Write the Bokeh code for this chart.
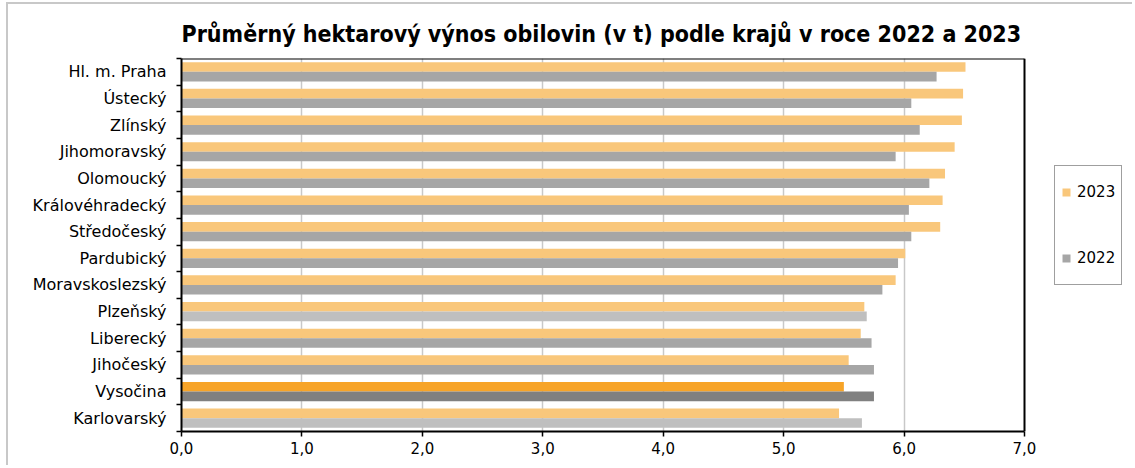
from bokeh.plotting import figure
from bokeh.models import (ColumnDataSource, Range1d, FixedTicker, Legend, LegendItem, Title)
from bokeh.embed import file_html
from bokeh.resources import INLINE

categories = ["Hl. m. Praha", "Ústecký", "Zlínský", "Jihomoravský", "Olomoucký",
              "Královéhradecký", "Středočeský", "Pardubický", "Moravskoslezský",
              "Plzeňský", "Liberecký", "Jihočeský", "Vysočina", "Karlovarský"]
v2023 = [6.51, 6.49, 6.48, 6.42, 6.34, 6.32, 6.30, 6.01, 5.93, 5.67, 5.64, 5.54, 5.50, 5.46]
v2022 = [6.27, 6.06, 6.13, 5.93, 6.21, 6.04, 6.06, 5.95, 5.82, 5.69, 5.73, 5.75, 5.75, 5.65]
series = ["2023", "2022"]
x_ticks = [0, 1, 2, 3, 4, 5, 6, 7]
x_tick_labels = ["0,0", "1,0", "2,0", "3,0", "4,0", "5,0", "6,0", "7,0"]

FONT = "DejaVu Sans"
TFONT = "DejaVu Sans Condensed"
n = len(categories)
centers = [n - i - 0.5 for i in range(n)]
BAR_H = 0.36

# layout (pixels)
W, H = 1126, 463
LEFT, TOP, BOTTOM = 173, 54, 36
PLOT_W = 843                      # width of the 0..7 plotting area
FRAME_W = W - LEFT
x_max = x_ticks[-1]
x_end = x_max * FRAME_W / PLOT_W  # frame extends right to hold the legend

c23 = []
c22 = []
for c in categories:
    if c == "Vysočina":
        c23.append("#F7A428"); c22.append("#808080")
    elif c in ("Plzeňský", "Karlovarský"):
        c23.append("#F9C77B"); c22.append("#BFBFBF")
    else:
        c23.append("#F9C77B"); c22.append("#A6A6A6")

src23 = ColumnDataSource(dict(y=[c + BAR_H / 2 for c in centers], v=v2023, color=c23, cat=categories))
src22 = ColumnDataSource(dict(y=[c - BAR_H / 2 for c in centers], v=v2022, color=c22, cat=categories))

p = figure(width=W, height=H, output_backend="svg", toolbar_location=None,
           x_range=Range1d(0, x_end), y_range=Range1d(0, n),
           min_border_left=LEFT, min_border_right=0, min_border_top=TOP, min_border_bottom=BOTTOM)
p.styles = {"margin-top": "2px", "margin-left": "6px",
            "border-top": "2px solid #C8C8C8", "border-left": "2px solid #C8C8C8"}

p.title = Title(text="Průměrný hektarový výnos obilovin (v t) podle krajů v roce 2022 a 2023",
                align="left", offset=0, text_font=TFONT, text_font_size="23px",
                text_font_style="bold", text_color="black", standoff=24)

p.outline_line_color = None
p.background_fill_color = "white"
p.border_fill_color = "white"

# grid
p.ygrid.grid_line_color = None
p.xgrid.grid_line_color = "#C8C8C8"
p.xgrid.grid_line_width = 1.5
p.xgrid.ticker = FixedTicker(ticks=x_ticks[1:-1])
p.xgrid.level = "underlay"

r23 = p.hbar(y="y", right="v", left=0, height=BAR_H, source=src23, fill_color="color", line_color=None)
r22 = p.hbar(y="y", right="v", left=0, height=BAR_H, source=src22, fill_color="color", line_color=None)

# plot-area border (top and right)
p.segment(x0=[0, x_max], y0=[n, 0], x1=[x_max, x_max], y1=[n, n], line_color="black", line_width=2)

# x axis
xa = p.xaxis[0]
xa.bounds = (0, x_max)
xa.ticker = FixedTicker(ticks=x_ticks)
xa.major_label_overrides = {t: lab for t, lab in zip(x_ticks, x_tick_labels)}
xa.axis_line_color = "black"
xa.axis_line_width = 2
xa.major_tick_line_color = "black"
xa.major_tick_line_width = 1.5
xa.major_tick_in = 0
xa.major_tick_out = 5
xa.minor_tick_line_color = None
xa.major_label_standoff = 5
xa.major_label_text_font = FONT
xa.major_label_text_font_size = "15px"
xa.major_label_text_color = "black"

# y axis
ya = p.yaxis[0]
ya.ticker = FixedTicker(ticks=centers, minor_ticks=list(range(0, n + 1)))
ya.major_label_overrides = {c: lab for c, lab in zip(centers, categories)}
ya.axis_line_color = "black"
ya.axis_line_width = 2
ya.major_tick_line_color = None
ya.minor_tick_line_color = "black"
ya.minor_tick_line_width = 1.5
ya.minor_tick_in = 0
ya.minor_tick_out = 5
ya.major_label_standoff = 9
ya.major_label_text_font = FONT
ya.major_label_text_font_size = "16px"
ya.major_label_text_color = "black"

legend = Legend(items=[LegendItem(label=series[0], renderers=[r23], index=0),
                       LegendItem(label=series[1], renderers=[r22], index=0)],
                location=(873, 146), orientation="vertical",
                padding=6, spacing=26, label_height=40, glyph_height=10, glyph_width=10,
                label_standoff=6, label_text_font=FONT, label_text_font_size="15px",
                label_text_color="black", border_line_color="#404040", border_line_width=1,
                background_fill_color="white", background_fill_alpha=1, margin=0)
p.add_layout(legend)

open("out.html", "w").write(file_html(p, INLINE))
